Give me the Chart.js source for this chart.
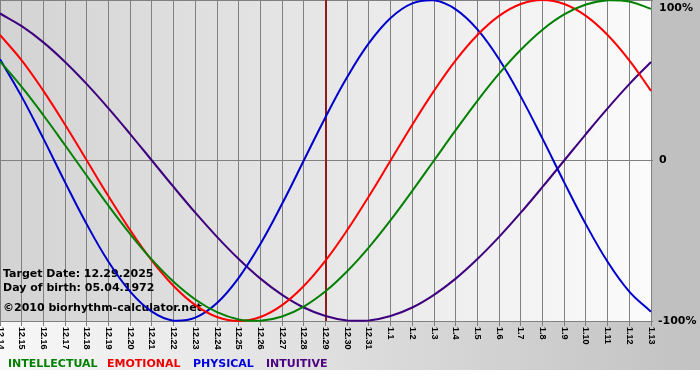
<!DOCTYPE html>
<html>
<head>
<meta charset="utf-8">
<script src="https://cdn.jsdelivr.net/npm/chart.js@4/dist/chart.umd.min.js"></script>
<style>
  html, body { margin: 0; padding: 0; background: #ffffff; }
  #wrap { position: relative; width: 700px; height: 380px; }
</style>
</head>
<body>
<div id="wrap"><canvas id="c"></canvas></div>
<script>
// ---- data ----
const categories = ['12.14','12.15','12.16','12.17','12.18','12.19','12.20','12.21','12.22','12.23',
  '12.24','12.25','12.26','12.27','12.28','12.29','12.30','12.31','1.1','1.2','1.3','1.4','1.5',
  '1.6','1.7','1.8','1.9','1.10','1.11','1.12','1.13'];
const intellectual = [61.8, 45.8, 28.2, 9.5, -9.5, -28.2, -45.8, -61.8, -75.6, -86.6, -94.5, -99.0, -99.9, -97.2, -91.0, -81.5, -69.0, -54.1, -37.2, -18.9, 0, 18.9, 37.2, 54.1, 69.0, 81.5, 91.0, 97.2, 99.9, 99.0, 94.5];
const emotional = [78.2, 62.4, 43.4, 22.3, 0, -22.3, -43.4, -62.4, -78.2, -90.1, -97.5, -100, -97.5, -90.1, -78.2, -62.4, -43.4, -22.3, 0, 22.3, 43.4, 62.4, 78.2, 90.1, 97.5, 100, 97.5, 90.1, 78.2, 62.4, 43.4];
const physical = [63.1, 39.8, 13.6, -13.6, -39.8, -63.1, -81.7, -94.2, -99.8, -97.9, -88.8, -73.1, -52.0, -27.0, 0, 27.0, 52.0, 73.1, 88.8, 97.9, 99.8, 94.2, 81.7, 63.1, 39.8, 13.6, -13.6, -39.8, -63.1, -81.7, -94.2];
const intuitive = [91.6, 83.7, 73.6, 61.4, 47.6, 32.5, 16.5, 0, -16.5, -32.5, -47.6, -61.4, -73.6, -83.7, -91.6, -96.9, -99.7, -99.7, -96.9, -91.6, -83.7, -73.6, -61.4, -47.6, -32.5, -16.5, 0, 16.5, 32.5, 47.6, 61.4];
const seriesNames = ['INTELLECTUAL', 'EMOTIONAL', 'PHYSICAL', 'INTUITIVE'];
const yTickValues = [100, 0, -100];
const yTickLabels = ['100%', '0', '-100%'];
const markerCategory = '12.29';
const infoLines = ['Target Date: 12.29.2025', 'Day of birth: 05.04.1972', '\u00A92010 biorhythm-calculator.net'];

// ---- styles ----
const lineColors = ['#008000', '#ff0000', '#0000cc', '#3f007f'];
const legendColors = ['#008000', '#ee0000', '#0000dd', '#4b0082'];
const legendX = [8, 107, 193, 266];
const FONT = '"DejaVu Sans", Verdana, sans-serif';
const TICK_FONT = 'bold 9px "Liberation Sans", Arial, sans-serif';

const decorPlugin = {
  id: 'decor',
  beforeDraw(chart) {
    const { ctx, chartArea: a, width, height } = chart;
    ctx.save();
    ctx.fillStyle = '#ffffff';
    ctx.fillRect(0, 0, width, height);
    // plot area gradient
    let g = ctx.createLinearGradient(a.left, 0, a.right, 0);
    g.addColorStop(0, '#d3d3d3');
    g.addColorStop(1, '#fbfbfb');
    ctx.fillStyle = g;
    ctx.fillRect(a.left, a.top, a.right - a.left, a.bottom - a.top);
    // right panel
    ctx.fillStyle = '#c0c0c0';
    ctx.fillRect(a.right, 0, width - a.right, a.bottom);
    // bottom band
    g = ctx.createLinearGradient(0, 0, width, 0);
    g.addColorStop(0, '#f8f8f8');
    g.addColorStop(1, '#c2c2c2');
    ctx.fillStyle = g;
    ctx.fillRect(0, a.bottom, width, 370 - a.bottom);
    ctx.restore();
  },
  beforeDatasetsDraw(chart) {
    const { ctx, chartArea: a, scales } = chart;
    ctx.save();
    // target date marker
    const mx = Math.round(scales.x.getPixelForValue(categories.indexOf(markerCategory)));
    ctx.strokeStyle = '#8e1c1c';
    ctx.lineWidth = 2;
    ctx.beginPath();
    ctx.moveTo(mx, a.top);
    ctx.lineTo(mx, a.bottom);
    ctx.stroke();
    // info text
    ctx.fillStyle = '#000000';
    ctx.font = 'bold 11px ' + FONT;
    ctx.textAlign = 'left';
    ctx.textBaseline = 'alphabetic';
    const ys = [277, 291, 311];
    infoLines.forEach((t, i) => ctx.fillText(t, 3, ys[i]));
    ctx.restore();
  },
  afterDraw(chart) {
    const { ctx, chartArea: a, scales } = chart;
    ctx.save();
    // x tick labels rotated clockwise
    ctx.fillStyle = '#000000';
    ctx.font = TICK_FONT;
    ctx.textAlign = 'left';
    ctx.textBaseline = 'middle';
    categories.forEach((lab, i) => {
      const x = scales.x.getPixelForValue(i);
      ctx.save();
      ctx.translate(x, a.bottom + 6);
      ctx.rotate(Math.PI / 2);
      ctx.fillText(lab, 0, 0);
      ctx.restore();
    });
    // y tick labels on the right
    ctx.font = 'bold 11px ' + FONT;
    yTickValues.forEach((v, i) => {
      let y = scales.y.getPixelForValue(v);
      y = Math.max(8, Math.min(322, y));
      const x = yTickLabels[i].startsWith('-') ? a.right + 7 : a.right + 8;
      ctx.fillText(yTickLabels[i], x, y);
    });
    // legend
    ctx.textBaseline = 'alphabetic';
    chart.data.datasets.forEach((ds, i) => {
      ctx.fillStyle = legendColors[i];
      ctx.fillText(ds.label, legendX[i], 367);
    });
    ctx.restore();
  }
};

const series = [intellectual, emotional, physical, intuitive];
new Chart(document.getElementById('c'), {
  type: 'line',
  data: {
    labels: categories,
    datasets: series.map((d, i) => ({
      label: seriesNames[i],
      data: d,
      borderColor: lineColors[i],
      borderWidth: 2,
      pointRadius: 0,
      tension: 0.4,
      fill: false,
      clip: false
    }))
  },
  options: {
    responsive: true,
    maintainAspectRatio: false,
    animation: false,
    layout: { padding: { left: 0, right: 0, top: 0, bottom: 0 } },
    plugins: { legend: { display: false }, tooltip: { enabled: false } },
    scales: {
      x: {
        type: 'category',
        offset: false,
        grid: { color: '#808080', lineWidth: 1, tickLength: 5, drawTicks: true },
        border: { display: false },
        ticks: { display: false },
        afterFit: s => { s.height = 59; }
      },
      y: {
        position: 'right',
        min: -100,
        max: 100,
        grid: { color: '#808080', lineWidth: 1, tickLength: 2 },
        border: { display: false },
        ticks: { display: false, stepSize: 100 },
        afterFit: s => { s.width = 49; }
      }
    }
  },
  plugins: [decorPlugin]
});
</script>
</body>
</html>
